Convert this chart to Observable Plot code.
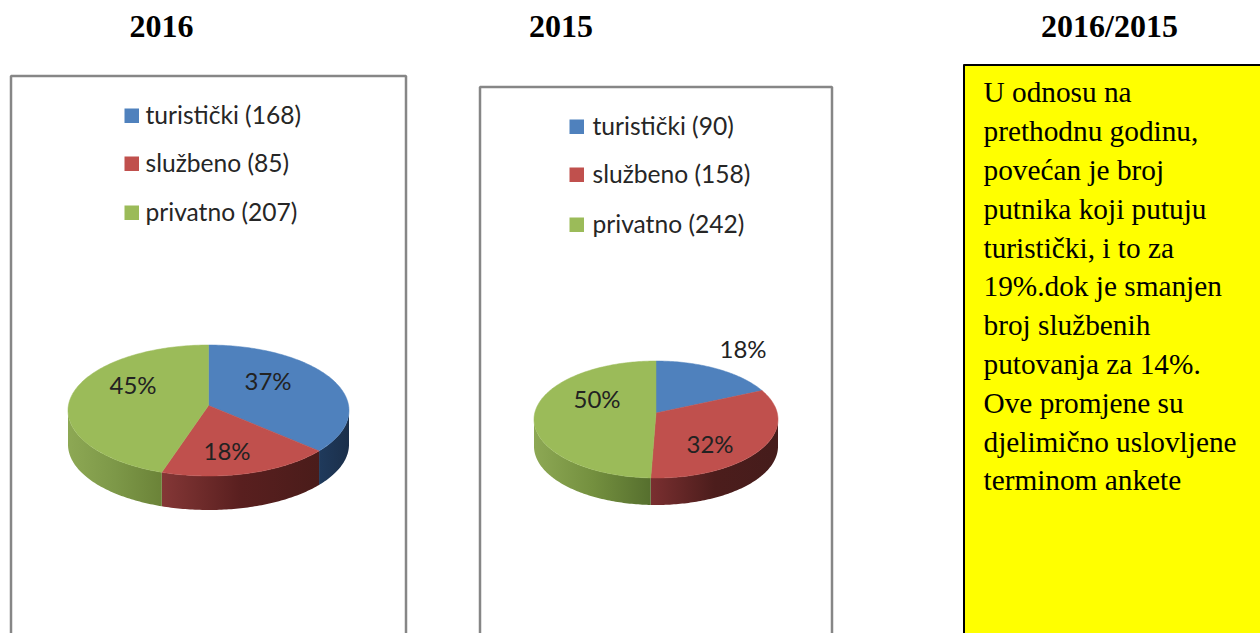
<!DOCTYPE html>
<html lang="sr">
<head>
<meta charset="utf-8">
<script src="https://cdn.jsdelivr.net/npm/d3@7"></script>
<script src="https://cdn.jsdelivr.net/npm/@observablehq/plot@0.6"></script>
<style>html,body{margin:0;padding:0;background:#fff;overflow:hidden}svg{display:block}</style>
</head>
<body>
<div id="chart"></div>
<script>
const categories = ["turistički", "službeno", "privatno"];
const counts2016 = [168, 85, 207];
const counts2015 = [90, 158, 242];
const percents2016 = ["37%", "18%", "45%"];
const percents2015 = ["18%", "32%", "50%"];
const titles = ["2016", "2015", "2016/2015"];
const noteLines = ["U odnosu na", "prethodnu godinu,", "povećan je broj", "putnika koji putuju", "turistički, i to za", "19%.dok je smanjen", "broj službenih", "putovanja za 14%.", "Ove promjene su", "djelimično uslovljene", "terminom ankete"];

// styles and layout (kept apart from the data above)
const topColors = ["#4f81bd", "#c0504d", "#9bbb59"];
const wallStops = {
  a0: ["#1f3a5c", "#1b2f4a"], a1: ["#843736", "#591f1f", "#4a1c1a"], a2: ["#8da854", "#7d9848", "#6b8338"],
  b0: ["#1f3a5c", "#1b2f4a"], b1: ["#7a2f30", "#4c1d1c", "#451c1b"], b2: ["#8da854", "#74903f", "#566f2e"]
};
const pies = [
  {id: "a", title: titles[0], titleX: 161.5, counts: counts2016, pct: percents2016,
   cx: 208.5, cy: 410.5, rx: 140.5, ry: 65.5, apexDy: -5, depth: 34,
   labels: [[268, 382], [227, 452], [133, 386]],
   box: [11, 406, 76], swX: 125, txtX: 145.5, rows: [116, 164, 213]},
  {id: "b", title: titles[1], titleX: 561, counts: counts2015, pct: percents2015,
   cx: 656, cy: 419.5, rx: 122, ry: 58.5, apexDy: -6.5, depth: 27,
   labels: [[743, 350], [710, 445], [597, 400]],
   box: [480, 832, 87], swX: 570, txtX: 592.5, rows: [127, 175, 225]}
];
const sans = "Lato, Carlito, 'Open Sans', sans-serif";
const serif = "'Liberation Serif', 'Times New Roman', serif";
const H = 633;

function rimPoint(p, deg, dy = 0) {
  const t = deg * Math.PI / 180;
  return [p.cx + p.rx * Math.sin(t), p.cy - p.ry * Math.cos(t) + dy];
}
function arcAngles(a, b) {
  const out = [];
  const n = Math.max(2, Math.ceil(Math.abs(b - a)));
  for (let i = 0; i <= n; i++) out.push(a + (b - a) * i / n);
  return out;
}
// perspective: the disc's centre sits above the ellipse centre, so the true
// angle of a slice boundary maps to a different angle on the drawn rim
function screenAngle(p, deg) {
  if (deg <= 0) return 0;
  if (deg >= 360) return 360;
  const e = -p.apexDy / p.ry;
  const t = deg * Math.PI / 180;
  const x = Math.sin(t), y = Math.cos(t), k = 1 + e * y;
  const sx = x * Math.sqrt(1 - e * e) / k, sy = (y + e) / k;
  const a = Math.atan2(sx, sy) * 180 / Math.PI;
  return a < 0 ? a + 360 : a;
}
function sliceBounds(p) {
  const total = d3.sum(p.counts);
  const c = d3.cumsum(p.counts);
  return p.counts.map((v, i) => [screenAngle(p, (i ? c[i - 1] : 0) / total * 360), screenAngle(p, c[i] / total * 360)]);
}

const marks = [];

// gradient definitions for the pie side walls
marks.push(() => {
  const ns = "http://www.w3.org/2000/svg";
  const defs = document.createElementNS(ns, "defs");
  for (const [id, cols] of Object.entries(wallStops)) {
    const g = document.createElementNS(ns, "linearGradient");
    g.setAttribute("id", "wall-" + id);
    g.setAttribute("x1", "0"); g.setAttribute("x2", "1"); g.setAttribute("y1", "0"); g.setAttribute("y2", "0");
    cols.forEach((col, i) => {
      const s = document.createElementNS(ns, "stop");
      s.setAttribute("offset", i / (cols.length - 1)); s.setAttribute("stop-color", col);
      g.appendChild(s);
    });
    defs.appendChild(g);
  }
  return defs;
});

// panel frames (open at the bottom: the page crop cuts them off)
for (const p of pies) {
  const [l, r, t] = p.box;
  marks.push(Plot.line([[l, H], [l, t], [r, t], [r, H]], {stroke: "#868686", strokeWidth: 2.5, strokeLinejoin: "miter"}));
}

// note box
marks.push(Plot.rect([0], {x1: () => 964, x2: () => 1261, y1: () => 65, y2: () => H + 1, fill: "#ffff00"}));
marks.push(Plot.line([[964, H], [964, 65], [1260, 65]], {stroke: "#000", strokeWidth: 2}));
marks.push(Plot.text(noteLines, {
  text: d => d, x: () => 983.5, y: (d, i) => 93 + i * 38.8, textAnchor: "start", lineAnchor: "middle",
  fontFamily: serif, fontSize: 29.3, fill: "#000"
}));

// titles
marks.push(Plot.text([titles[2]], {text: d => d, x: () => 1109.5, y: () => 27, lineAnchor: "middle", fontFamily: serif, fontWeight: "bold", fontSize: 32, fill: "#000"}));

for (const p of pies) {
  marks.push(Plot.text([p.title], {text: d => d, x: () => p.titleX, y: () => 27, lineAnchor: "middle", fontFamily: serif, fontWeight: "bold", fontSize: 32, fill: "#000"}));

  // legend
  categories.forEach((c, i) => {
    const yc = p.rows[i];
    marks.push(Plot.rect([0], {x1: () => p.swX, x2: () => p.swX + 14.5, y1: () => yc - 7, y2: () => yc + 7.5, fill: topColors[i]}));
    marks.push(Plot.text([`${c} (${p.counts[i]})`], {text: d => d, x: () => p.txtX, y: () => yc, textAnchor: "start", lineAnchor: "middle", fontFamily: sans, fontSize: 24.6, fill: "#262626"}));
  });

  const bounds = sliceBounds(p);

  // side walls: only the front half of the rim is visible
  bounds.forEach(([a, b], i) => {
    const s = Math.max(a, 90), e = Math.min(b, 270);
    if (e <= s) return;
    const ang = arcAngles(s, e);
    const poly = [...ang.map(d => rimPoint(p, d)), ...ang.slice().reverse().map(d => rimPoint(p, d, p.depth))];
    marks.push(Plot.line(poly, {fill: `url(#wall-${p.id}${i})`, stroke: "none"}));
  });

  // top faces
  bounds.forEach(([a, b], i) => {
    const poly = [[p.cx, p.cy + p.apexDy], ...arcAngles(a, b).map(d => rimPoint(p, d)), [p.cx, p.cy + p.apexDy]];
    marks.push(Plot.line(poly, {fill: topColors[i], stroke: topColors[i], strokeWidth: 0.5}));
  });

  // percent labels
  p.pct.forEach((t, i) => {
    const [lx, ly] = p.labels[i];
    marks.push(Plot.text([t], {text: d => d, x: () => lx, y: () => ly, lineAnchor: "middle", fontFamily: sans, fontSize: 24, fill: "#222"}));
  });
}

const chart = Plot.plot({
  width: 1260, height: H,
  marginTop: 0, marginRight: 0, marginBottom: 0, marginLeft: 0,
  x: {domain: [0, 1260], range: [-0.5, 1259.5], axis: null},
  y: {domain: [0, H], range: [-0.5, H - 0.5], axis: null},
  style: {background: "#fff"},
  marks
});
document.getElementById("chart").appendChild(chart);
</script>
</body>
</html>
